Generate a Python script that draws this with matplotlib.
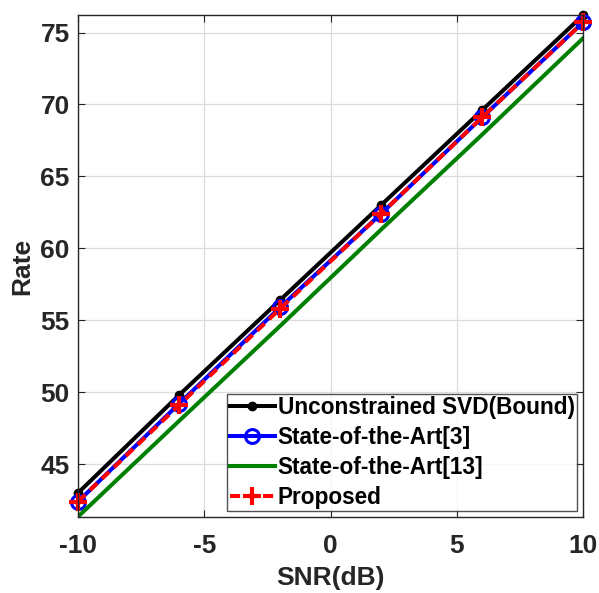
import matplotlib.pyplot as plt

# SNR points and rates
snr = [-10, -6, -2, 2, 6, 10]
svd_bound = [43.0, 49.8, 56.4, 63.0, 69.6, 76.2]
soa_3 = [42.4, 49.2, 55.9, 62.4, 69.1, 75.7]
soa_13 = [41.35, 48.0, 54.6, 61.3, 67.9, 74.6]
proposed = [42.4, 49.1, 55.8, 62.4, 69.1, 75.7]

labels = ["Unconstrained SVD(Bound)", "State-of-the-Art[3]",
          "State-of-the-Art[13]", "Proposed"]

plt.rcParams['font.family'] = ['Liberation Sans', 'DejaVu Sans']
plt.rcParams['font.weight'] = 'bold'
plt.rcParams['axes.unicode_minus'] = False
txt = '#262626'

fig = plt.figure(figsize=(5.99, 5.93), dpi=100)
ax = fig.add_axes([78 / 599, 76 / 593, 505 / 599, 502 / 593])

ax.plot(snr, svd_bound, '-', color='black', lw=2.9, marker='.', ms=12,
        label=labels[0], clip_on=False)
ax.plot(snr, soa_3, '-', color='blue', lw=2.9, marker='o', ms=10,
        mfc='none', mew=2.2, label=labels[1], clip_on=False)
ax.plot(snr, soa_13, '-', color='#008000', lw=2.9, label=labels[2])
ax.plot(snr, proposed, '--', color='red', lw=2.9, marker='+', ms=13,
        mew=3, label=labels[3], dashes=(2.5, 1.6), clip_on=False)

ax.set_xlim(-10, 10)
ax.set_ylim(41.33, 76.22)
ax.set_xticks([-10, -5, 0, 5, 10])
ax.set_yticks([45, 50, 55, 60, 65, 70, 75])
ax.grid(True, color='#dcdcdc', lw=0.9)
ax.set_axisbelow(True)
ax.tick_params(direction='in', length=5, labelsize=19, colors=txt,
               top=True, right=True, pad=6)
ax.tick_params(axis='x', pad=12)
for lb in ax.get_xticklabels() + ax.get_yticklabels():
    lb.set_fontweight('bold')
for s in ax.spines.values():
    s.set_color(txt)
    s.set_linewidth(1.0)

ax.set_xlabel("SNR(dB)", fontsize=19, fontweight='bold', color=txt, labelpad=6)
ax.set_ylabel("Rate", fontsize=19, fontweight='bold', color=txt, labelpad=4)

leg = ax.legend(loc='lower right', frameon=True, fancybox=False,
                edgecolor=txt, handlelength=2.0, handletextpad=0.12,
                borderpad=0.12, labelspacing=0.3, borderaxespad=0.25,
                prop={'weight': 'bold', 'size': 16.3})
leg.get_frame().set_linewidth(1.0)

plt.savefig("out.png", dpi=100)
